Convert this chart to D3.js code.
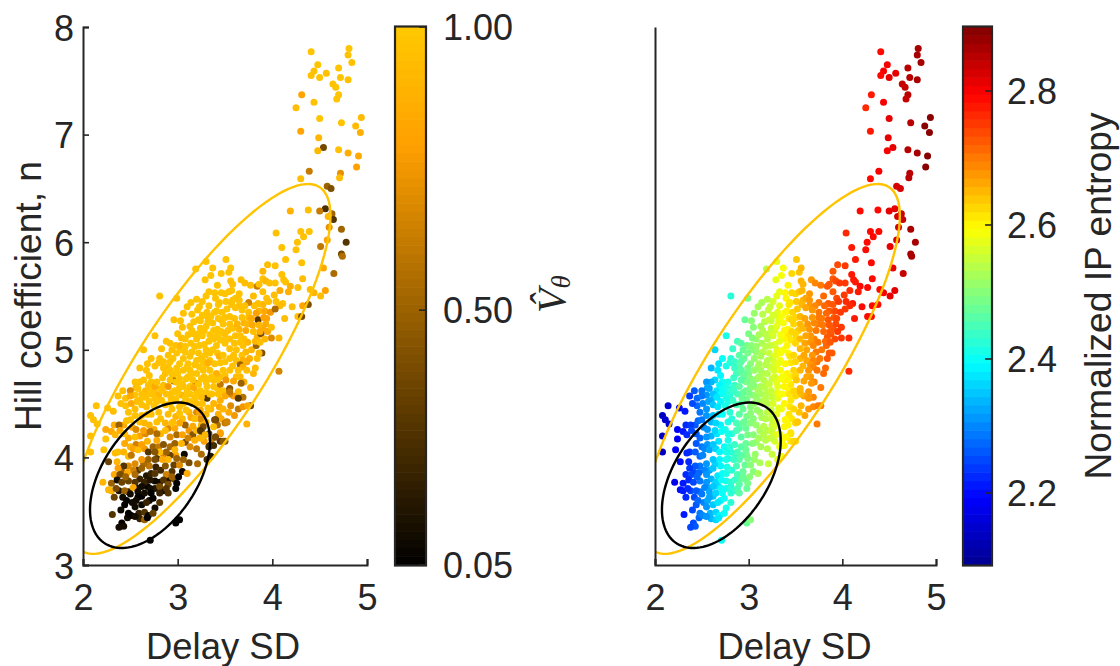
<!DOCTYPE html>
<html><head><meta charset="utf-8">
<script src="https://cdnjs.cloudflare.com/ajax/libs/d3/7.8.5/d3.min.js"></script>
<style>html,body{margin:0;padding:0;background:#fff}svg{display:block}text{font-family:"Liberation Sans",Arial,sans-serif;fill:#262626}</style>
</head><body><svg id="c" width="1120" height="666"></svg>
<script>
// each row: Delay SD, Hill coefficient n, V-hat theta, normalized IP entropy
const upperTail=[[4.41,7.77,.98,2.795],[4.81,7.80,.98,2.87],[4.80,7.74,.97,2.87],[4.84,7.67,.97,2.87],[4.48,7.65,.98,2.80],[4.70,7.62,.98,2.85],[4.44,7.59,.97,2.80],[4.41,7.55,.97,2.795],[4.50,7.53,.98,2.81],[4.57,7.57,.97,2.82],[4.72,7.53,.98,2.85],[4.80,7.51,.97,2.87],[4.64,7.47,.98,2.835],[4.67,7.44,.98,2.84],[4.31,7.37,.82,2.78],[4.44,7.30,.97,2.80],[4.25,7.25,.95,2.76],[4.70,7.37,.98,2.85],[4.68,7.33,.98,2.845],[4.50,7.15,.98,2.81],[4.73,7.11,.98,2.855],[4.94,7.16,.93,2.895],[4.88,7.08,.93,2.885],[4.93,7.02,.88,2.89],[4.30,7.03,.82,2.78],[4.49,6.97,.9,2.81],[4.54,6.88,.38,2.82],[4.48,6.85,.92,2.805],[4.70,6.86,.97,2.85],[4.80,6.83,.86,2.87],[4.91,6.80,.85,2.885],[4.89,6.70,.8,2.885],[4.72,6.64,.72,2.85],[4.71,6.60,.95,2.85],[4.39,6.66,.62,2.80],[4.30,6.59,.95,2.79],[4.58,6.52,.5,2.825],[4.62,6.50,.42,2.83],[4.56,6.31,.26,2.82],[4.50,6.29,.62,2.81],[4.38,6.30,.95,2.795],[4.19,6.29,.88,2.785],[4.63,6.265,.52,2.835],[4.59,6.24,.9,2.83],[4.645,6.21,.3,2.84],[4.60,6.14,.72,2.83],[4.73,6.12,.52,2.86],[4.30,6.10,.97,2.79],[4.39,6.10,.97,2.795],[4.33,6.05,.97,2.79],[4.04,6.085,.96,2.76],[4.58,6.02,.8,2.825],[4.78,6.00,.3,2.87],[4.265,6.00,.97,2.785],[4.51,5.96,.6,2.81],[4.25,5.93,.97,2.785],[4.73,5.89,.38,2.86],[4.74,5.87,.56,2.86],[4.10,5.95,.97,2.775]];
const upperBand=[[4.31,5.81,.97,2.79],[4.54,5.76,.85,2.82],[4.65,5.71,.55,2.84],[4.32,5.66,.95,2.79],[4.14,5.84,.97,2.78],[3.95,5.79,.95,2.74],[4.03,5.78,.96,2.755],[3.51,5.84,.98,2.635],[3.30,5.82,.98,2.57],[3.19,5.75,.98,2.54],[3.37,5.76,.98,2.59],[3.35,5.69,.98,2.585],[3.46,5.71,.98,2.62],[3.54,5.72,.98,2.64],[3.56,5.76,.98,2.65],[3.29,5.65,.98,2.57],[3.56,5.64,.96,2.65],[3.58,5.61,.96,2.655],[3.67,5.65,.95,2.68],[3.71,5.62,.95,2.69],[3.77,5.60,.95,2.70],[3.84,5.59,.62,2.72],[3.86,5.61,.96,2.72],[3.90,5.73,.9,2.73],[3.90,5.66,.96,2.73],[3.93,5.64,.9,2.735],[3.97,5.62,.95,2.745],[4.03,5.62,.96,2.755],[4.10,5.70,.97,2.775],[4.12,5.65,.97,2.78],[4.14,5.63,.97,2.78],[4.19,5.59,.88,2.785],[4.27,5.58,.95,2.79],[4.40,5.56,.95,2.795],[4.44,5.53,.9,2.80],[4.56,5.55,.8,2.82],[4.51,5.50,.95,2.81],[4.08,5.55,.84,2.77],[4.17,5.54,.88,2.78],[3.90,5.54,.96,2.73],[4.02,5.51,.95,2.755],[3.94,5.48,.96,2.74],[3.96,5.45,.95,2.745],[3.85,5.43,.95,2.72],[3.81,5.41,.96,2.71],[3.75,5.44,.65,2.70],[4.04,5.45,.96,2.76],[4.11,5.43,.96,2.775],[4.08,5.41,.94,2.77],[4.03,5.38,.55,2.755],[4.21,5.40,.95,2.785],[4.32,5.41,.82,2.79],[4.38,5.42,.42,2.795],[4.13,5.29,.95,2.78],[4.27,5.31,.95,2.79],[4.31,5.31,.4,2.79],[2.81,5.50,.97,2.42],[2.99,5.48,.97,2.485],[3.33,5.54,.98,2.58],[3.39,5.53,.98,2.595],[3.46,5.53,.98,2.62],[3.54,5.54,.98,2.64],[3.57,5.55,.98,2.65],[3.65,5.52,.97,2.675],[3.61,5.48,.98,2.665],[3.65,5.46,.97,2.675],[3.40,5.48,.98,2.60],[3.20,5.47,.98,2.54],[3.14,5.44,.98,2.53],[3.10,5.40,.98,2.52],[3.23,5.40,.98,2.55],[3.21,5.37,.98,2.545],[3.33,5.41,.98,2.58],[3.44,5.44,.98,2.61],[3.51,5.45,.98,2.635],[3.57,5.42,.97,2.65],[3.65,5.41,.97,2.675],[3.71,5.41,.96,2.69],[3.75,5.35,.96,2.70],[3.68,5.37,.96,2.68],[3.61,5.39,.97,2.665],[3.43,5.42,.98,2.61],[3.39,5.35,.98,2.595],[3.31,5.35,.98,2.575],[3.28,5.32,.98,2.565],[3.35,5.31,.98,2.585],[3.43,5.29,.98,2.61],[3.46,5.28,.98,2.62],[3.55,5.31,.97,2.645],[3.60,5.29,.97,2.66],[3.68,5.30,.96,2.68],[3.75,5.30,.94,2.70],[3.63,5.24,.9,2.67],[3.65,5.19,.9,2.675],[3.55,5.24,.97,2.645],[3.85,5.28,.3,2.72],[3.78,5.29,.85,2.705],[3.91,5.30,.8,2.73],[3.94,5.29,.8,2.74],[3.79,5.23,.85,2.705],[3.86,5.23,.9,2.72],[3.93,5.24,.86,2.735],[3.99,5.21,.95,2.75],[3.72,5.18,.85,2.695],[3.88,5.15,.42,2.725],[3.87,5.17,.86,2.72],[3.80,5.17,.95,2.71],[3.99,5.11,.7,2.75],[3.92,5.10,.9,2.735],[4.07,5.11,.9,2.77],[3.83,5.04,.5,2.715],[3.82,5.08,.9,2.715],[3.87,5.07,.95,2.725],[3.66,5.13,.97,2.68],[3.61,5.13,.97,2.665],[3.66,5.07,.96,2.68],[2.96,5.28,.97,2.475],[3.03,5.27,.97,2.50],[3.05,5.21,.97,2.505],[3.13,5.22,.98,2.53],[3.17,5.26,.98,2.535],[3.22,5.28,.98,2.55],[3.26,5.32,.98,2.56],[3.24,5.20,.98,2.555],[2.76,5.13,.97,2.41],[3.11,5.14,.98,2.525],[3.17,5.15,.98,2.535],[3.26,5.13,.98,2.56],[3.20,5.10,.98,2.54],[3.38,5.18,.98,2.595],[3.42,5.19,.98,2.605],[3.46,5.17,.98,2.62],[3.38,5.10,.98,2.595],[3.45,5.09,.98,2.615],[3.50,5.15,.97,2.63],[3.04,5.11,.97,2.50],[2.88,5.08,.97,2.45],[2.92,5.06,.97,2.465],[3.03,5.04,.92,2.50],[3.55,5.10,.97,2.645],[3.30,5.22,.98,2.57],[3.34,5.14,.98,2.585],[3.48,5.24,.98,2.625],[3.14,5.06,.98,2.53],[3.28,5.05,.98,2.565],[3.33,5.08,.98,2.58]];
const coreCloud=[[2.83,5.01,.97,2.44],[2.64,5.00,.97,2.36],[2.94,5.00,.97,2.475],[3.08,5.03,.98,2.515],[3.23,5.04,.98,2.55],[3.18,5.03,.98,2.54],[3.41,5.04,.98,2.605],[3.50,5.06,.98,2.63],[3.55,5.01,.97,2.645],[3.62,5.00,.97,2.665],[3.69,5.04,.96,2.685],[3.89,4.97,.42,2.73],[3.86,4.97,.92,2.725],[3.84,4.92,.95,2.72],[3.82,4.83,.95,2.715],[4.07,4.80,.66,2.77],[2.81,4.92,.97,2.425],[2.80,4.88,.97,2.42],[2.85,4.89,.97,2.44],[2.99,4.97,.98,2.485],[2.95,4.92,.98,2.475],[2.92,4.89,.98,2.465],[3.06,4.92,.98,2.51],[3.02,4.87,.98,2.50],[3.13,4.94,.98,2.53],[3.11,4.87,.98,2.525],[3.22,4.97,.98,2.55],[3.20,4.90,.98,2.54],[3.18,4.86,.98,2.54],[3.29,4.95,.98,2.57],[3.27,4.89,.98,2.56],[3.34,4.97,.98,2.585],[3.44,4.94,.88,2.61],[3.34,4.90,.98,2.585],[3.39,4.87,.98,2.595],[3.32,4.88,.88,2.575],[3.48,4.95,.98,2.625],[3.55,4.92,.97,2.645],[3.59,4.95,.97,2.66],[3.50,4.89,.98,2.63],[3.68,4.95,.96,2.68],[3.73,4.89,.85,2.695],[3.69,4.90,.88,2.685],[3.66,4.86,.5,2.68],[3.69,4.84,.88,2.685],[2.60,4.83,.97,2.34],[2.68,4.87,.97,2.38],[2.67,4.81,.97,2.375],[2.70,4.76,.97,2.39],[2.87,4.78,.97,2.45],[2.92,4.81,.98,2.465],[2.99,4.83,.98,2.485],[3.06,4.81,.98,2.51],[3.13,4.81,.98,2.53],[3.20,4.78,.98,2.54],[3.27,4.81,.98,2.56],[3.34,4.81,.98,2.585],[3.41,4.78,.88,2.605],[3.48,4.81,.98,2.625],[3.55,4.81,.97,2.645],[3.64,4.81,.97,2.67],[3.62,4.75,.95,2.665],[3.73,4.81,.95,2.695],[2.95,4.75,.98,2.475],[2.96,4.71,.45,2.48],[3.19,4.69,.7,2.54],[3.02,4.73,.98,2.50],[3.09,4.73,.98,2.515],[3.25,4.73,.98,2.555],[3.34,4.73,.98,2.585],[3.45,4.68,.6,2.615],[3.51,4.72,.75,2.635],[3.59,4.71,.85,2.66],[3.67,4.69,.5,2.68],[3.54,4.62,.42,2.64],[3.77,4.65,.88,2.705],[3.64,4.61,.95,2.67],[3.59,4.57,.78,2.66],[3.69,4.56,.58,2.685],[3.64,4.55,.3,2.67],[3.55,4.59,.68,2.645],[2.50,4.62,.7,2.29],[2.58,4.64,.97,2.33],[2.62,4.59,.97,2.35],[2.69,4.67,.97,2.385],[2.72,4.64,.97,2.40],[2.76,4.66,.85,2.41],[2.71,4.59,.97,2.395],[2.80,4.58,.9,2.42],[2.85,4.67,.97,2.44],[2.90,4.66,.75,2.46],[2.88,4.59,.97,2.45],[2.97,4.62,.98,2.48],[3.06,4.66,.98,2.51],[3.13,4.66,.98,2.53],[3.04,4.58,.9,2.505],[3.17,4.65,.85,2.535],[3.13,4.59,.98,2.53],[3.24,4.62,.98,2.555],[3.31,4.66,.98,2.575],[3.38,4.66,.98,2.595],[3.31,4.55,.3,2.575],[3.25,4.56,.95,2.555],[3.36,4.59,.97,2.59],[3.43,4.59,.97,2.61],[3.48,4.62,.97,2.625],[3.50,4.57,.85,2.63],[3.55,4.64,.45,2.645],[3.55,4.61,.6,2.645],[3.45,4.53,.88,2.615],[3.38,4.50,.9,2.595],[3.32,4.46,.97,2.575],[3.26,4.50,.97,2.56],[3.34,4.59,.97,2.585],[3.69,4.47,.75,2.685],[3.77,4.48,.35,2.705],[3.74,4.48,.85,2.70],[3.60,4.39,.75,2.66],[3.54,4.42,.85,2.64],[3.48,4.45,.9,2.625],[3.43,4.40,.88,2.61],[3.40,4.35,.32,2.60],[3.52,4.33,.45,2.635],[3.50,4.32,.6,2.63],[2.45,4.55,.97,2.27],[2.55,4.58,.97,2.31],[2.60,4.53,.97,2.34],[2.66,4.56,.97,2.37],[2.76,4.55,.97,2.41],[2.84,4.62,.97,2.435],[2.93,4.55,.97,2.47],[2.98,4.70,.98,2.485],[3.05,4.68,.98,2.505],[3.11,4.75,.98,2.525],[3.16,4.72,.98,2.535],[3.22,4.68,.98,2.55],[3.28,4.75,.98,2.565],[3.30,4.70,.98,2.57],[3.00,4.60,.98,2.49],[3.08,4.56,.98,2.515],[3.18,4.55,.98,2.54],[2.92,4.72,.98,2.465],[3.36,4.75,.98,2.59],[3.42,4.72,.98,2.605],[2.78,4.70,.97,2.415],[2.84,4.74,.97,2.435],[3.16,4.50,.97,2.535],[3.06,4.50,.97,2.51]];
const lowerCloud=[[2.14,4.48,.97,2.15],[2.08,4.39,.97,2.14],[2.11,4.35,.97,2.15],[2.15,4.31,.97,2.165],[2.26,4.46,.97,2.20],[2.32,4.43,.95,2.215],[2.37,4.57,.97,2.24],[2.40,4.50,.97,2.25],[2.50,4.57,.85,2.29],[2.51,4.50,.85,2.295],[2.57,4.52,.95,2.325],[2.62,4.49,.97,2.35],[2.78,4.52,.97,2.415],[2.83,4.53,.97,2.435],[2.87,4.49,.97,2.45],[2.67,4.47,.97,2.375],[2.48,4.42,.97,2.285],[2.55,4.39,.97,2.31],[2.62,4.39,.97,2.35],[2.50,4.35,.97,2.29],[2.38,4.30,.5,2.24],[2.39,4.25,.85,2.245],[2.24,4.26,.85,2.19],[2.30,4.24,.85,2.21],[2.34,4.21,.9,2.22],[2.08,4.20,.97,2.14],[2.24,4.17,.97,2.19],[2.08,4.05,.97,2.14],[2.22,4.07,.97,2.185],[2.44,4.22,.95,2.265],[2.44,4.13,.85,2.265],[2.37,4.05,.95,2.235],[2.34,4.04,.95,2.22],[2.27,3.96,.35,2.20],[2.36,3.96,.9,2.23],[2.43,4.05,.9,2.26],[2.48,4.01,.95,2.28],[2.53,4.08,.8,2.305],[2.58,4.07,.95,2.33],[2.51,4.02,.6,2.295],[2.64,4.25,.8,2.36],[2.71,4.24,.6,2.395],[2.55,4.19,.97,2.31],[2.65,4.32,.9,2.365],[2.78,4.33,.97,2.415],[2.87,4.25,.95,2.45],[2.94,4.32,.97,2.475],[3.02,4.41,.97,2.50],[3.09,4.44,.97,2.515],[3.20,4.42,.7,2.54],[3.23,4.42,.8,2.55],[3.39,4.35,.4,2.595],[3.52,4.33,.65,2.635],[3.45,4.22,.75,2.615],[3.40,4.19,.45,2.60],[3.45,4.15,.3,2.615],[3.48,4.15,.45,2.625],[3.38,4.11,.25,2.595],[3.33,4.10,.25,2.58],[3.35,4.01,.15,2.585],[3.31,3.98,.25,2.575],[3.25,4.24,.2,2.555],[3.25,4.30,.9,2.555],[3.20,4.25,.95,2.54],[3.23,4.18,.9,2.55],[3.16,4.29,.85,2.535],[3.08,4.30,.5,2.515],[3.02,4.32,.85,2.50],[2.95,4.33,.95,2.475],[2.87,4.32,.9,2.45],[2.92,4.19,.7,2.465],[2.99,4.21,.55,2.485],[3.05,4.21,.8,2.505],[3.11,4.18,.65,2.525],[2.97,4.13,.5,2.48],[3.04,4.13,.9,2.505],[3.13,4.10,.7,2.53],[2.97,4.07,.9,2.48],[2.88,4.05,.5,2.45],[2.81,4.05,.95,2.425],[2.76,4.05,.45,2.41],[2.69,4.05,.3,2.385],[3.07,4.03,.1,2.515],[2.99,3.99,.5,2.485],[3.06,3.98,.5,2.51],[2.90,3.98,.9,2.46],[2.84,3.98,.85,2.435],[2.76,3.98,.4,2.41],[2.69,3.98,.5,2.385],[2.62,3.98,.75,2.35],[3.21,3.94,.55,2.545],[2.87,3.92,.45,2.45],[2.55,3.94,.7,2.31],[2.62,3.90,.5,2.35],[2.48,3.92,.7,2.285],[2.43,3.92,.3,2.26],[2.37,3.90,.8,2.235],[2.47,3.86,.85,2.28],[2.39,3.84,.4,2.245],[2.55,3.84,.55,2.31],[2.67,3.83,.15,2.375],[2.72,3.85,.2,2.40],[2.76,3.85,.3,2.41],[2.94,3.87,.3,2.475],[3.05,3.87,.08,2.505],[2.88,3.84,.65,2.45],[2.94,3.82,.5,2.475],[3.01,3.82,.05,2.495],[3.10,3.85,.85,2.52],[2.21,3.77,.9,2.18],[2.30,3.76,.5,2.21],[2.36,3.79,.1,2.23],[2.41,3.77,.35,2.25],[2.45,3.82,.5,2.27],[2.55,3.77,.3,2.31],[2.65,3.77,.2,2.365],[2.71,3.79,.15,2.395],[2.81,3.77,.1,2.425],[2.85,3.79,.3,2.44],[2.99,3.76,.05,2.485],[2.90,3.75,.4,2.46],[2.27,3.70,.9,2.20],[2.30,3.69,.9,2.21],[2.35,3.71,.4,2.225],[2.44,3.69,.5,2.265],[2.53,3.72,.85,2.305],[2.62,3.73,.1,2.35],[2.71,3.71,.1,2.395],[2.81,3.73,.4,2.425],[2.88,3.71,.3,2.45],[2.98,3.71,.05,2.48],[2.90,3.67,.3,2.46],[2.33,3.63,.35,2.22],[2.42,3.63,.1,2.255],[2.50,3.66,.1,2.29],[2.58,3.68,.1,2.33],[2.65,3.67,.1,2.365],[2.72,3.67,.05,2.40],[2.81,3.67,.2,2.425],[2.46,3.60,.05,2.275],[2.58,3.63,.05,2.33],[2.56,3.60,.1,2.32],[2.74,3.62,.05,2.405],[2.67,3.58,.2,2.375],[2.81,3.58,.3,2.425],[2.55,3.54,.1,2.31],[2.31,3.47,.3,2.215],[2.40,3.51,.08,2.25],[2.48,3.48,.05,2.285],[2.51,3.46,.05,2.295],[2.59,3.48,.2,2.335],[2.65,3.49,.3,2.365],[2.69,3.46,.08,2.385],[2.74,3.48,.35,2.405],[2.55,3.45,.1,2.31],[2.65,3.42,.5,2.365],[2.68,3.44,.05,2.38],[2.41,3.39,.05,2.255],[2.43,3.36,.1,2.26],[2.38,3.35,.1,2.245],[2.98,3.39,.05,2.48],[3.02,3.42,.05,2.50],[2.71,3.23,.05,2.395],[3.27,4.285,.4,2.56],[3.24,4.25,.3,2.555],[3.24,4.36,.7,2.555],[3.29,4.21,.9,2.57],[3.25,4.18,.9,2.555],[3.38,4.285,.95,2.595],[3.45,4.23,.8,2.615],[3.40,4.19,.4,2.60],[3.50,4.15,.45,2.63],[3.34,4.11,.25,2.585],[3.73,4.31,.88,2.695],[3.14,4.37,.85,2.53],[2.72,4.40,.97,2.40],[2.80,4.42,.97,2.42],[2.94,4.45,.97,2.475],[2.56,4.26,.7,2.315],[2.68,4.15,.9,2.38],[2.78,4.16,.85,2.415],[2.85,4.12,.45,2.44],[2.62,4.12,.8,2.35],[3.18,4.36,.95,2.54]];
const denseFill=[[3.0,5.15,.98,2.49],[3.08,5.1,.98,2.515],[3.15,5.18,.98,2.535],[3.22,5.15,.98,2.55],[3.28,5.18,.98,2.565],[3.32,5.26,.98,2.58],[3.37,5.25,.98,2.59],[3.41,5.36,.98,2.60],[3.47,5.35,.98,2.62],[3.52,5.38,.98,2.635],[3.5,5.3,.98,2.63],[3.4,5.12,.98,2.60],[3.43,5.14,.98,2.61],[3.5,5.1,.98,2.63],[3.53,5.18,.97,2.64],[3.58,5.2,.97,2.655],[3.6,5.06,.97,2.66],[3.7,5.1,.95,2.69],[3.74,5.07,.92,2.70],[3.78,5.0,.9,2.705],[3.72,4.98,.92,2.695],[3.76,4.92,.88,2.70],[3.8,4.78,.9,2.71],[3.66,4.75,.92,2.68],[3.7,4.7,.88,2.69],[3.58,4.85,.97,2.655],[3.62,4.9,.97,2.665],[3.45,4.88,.98,2.615],[3.42,4.97,.98,2.605],[3.37,5.0,.98,2.59],[3.3,5.0,.98,2.57],[3.25,4.92,.98,2.555],[3.15,4.98,.98,2.535],[3.08,4.98,.98,2.515],[3.03,5.0,.98,2.50],[2.98,5.04,.97,2.485],[3.1,4.84,.98,2.52],[3.15,4.78,.98,2.535],[3.23,4.84,.98,2.55],[3.3,4.86,.98,2.57],[3.0,4.78,.98,2.49],[2.94,4.78,.98,2.475],[2.9,4.84,.97,2.46],[2.85,4.83,.97,2.44],[2.76,4.85,.97,2.41],[2.72,4.7,.97,2.40],[2.64,4.72,.97,2.36],[2.6,4.7,.97,2.34],[2.55,4.7,.96,2.31],[2.72,4.92,.97,2.40],[2.9,4.95,.97,2.46],[3.45,4.75,.97,2.615],[3.5,4.76,.97,2.63],[3.38,4.72,.95,2.595],[3.42,4.64,.97,2.605],[3.3,4.6,.98,2.57],[3.2,4.6,.98,2.54],[3.1,4.62,.98,2.52],[3.02,4.65,.98,2.50],[2.94,4.6,.98,2.475],[2.82,4.64,.97,2.43],[2.76,4.6,.97,2.41],[2.66,4.62,.95,2.37],[2.56,4.65,.95,2.32],[2.42,4.62,.97,2.26],[2.45,4.48,.96,2.27],[2.55,4.45,.95,2.31],[2.7,4.52,.98,2.39],[2.75,4.48,.98,2.41],[2.92,4.5,.98,2.465],[2.98,4.54,.98,2.485],[3.02,4.47,.97,2.50],[3.12,4.52,.97,2.525],[3.2,4.5,.95,2.54],[3.24,4.44,.85,2.555],[3.3,4.4,.9,2.57],[3.35,4.45,.92,2.585],[3.44,4.47,.85,2.61],[3.3,4.33,.88,2.57],[3.33,4.22,.35,2.58],[3.36,4.17,.6,2.59],[3.42,4.3,.55,2.605],[3.46,4.36,.85,2.615],[3.56,4.48,.7,2.645],[3.64,4.45,.6,2.67],[2.68,4.4,.97,2.38],[2.6,4.33,.96,2.34],[2.7,4.3,.9,2.39],[2.82,4.36,.97,2.43],[2.9,4.4,.95,2.46],[2.98,4.38,.9,2.485],[3.05,4.36,.95,2.505],[3.12,4.42,.9,2.525],[2.43,4.3,.85,2.26],[2.46,4.34,.95,2.275],[2.33,4.3,.88,2.22],[2.52,4.28,.85,2.30],[2.6,4.2,.8,2.34],[2.66,4.22,.7,2.37],[2.75,4.26,.85,2.41],[2.82,4.22,.9,2.43],[2.78,4.22,.55,2.415],[2.9,4.27,.7,2.46],[2.97,4.27,.85,2.48],[3.12,4.25,.75,2.525],[3.16,4.21,.45,2.535],[3.08,4.14,.4,2.515],[3.18,4.16,.88,2.54],[3.28,4.15,.8,2.565],[3.2,4.08,.6,2.54],[3.25,4.03,.55,2.555],[2.48,4.18,.85,2.28],[2.5,4.1,.9,2.29],[2.56,4.12,.65,2.315],[2.65,4.08,.75,2.365],[2.74,4.1,.5,2.405],[2.8,4.1,.6,2.42],[2.92,4.1,.55,2.465],[2.98,4.02,.8,2.485],[2.92,4.02,.35,2.465],[2.85,4.03,.7,2.44],[2.78,3.99,.3,2.415],[2.7,3.92,.6,2.39],[2.64,3.94,.55,2.36],[2.77,3.91,.2,2.41],[2.82,3.88,.25,2.43],[2.96,3.93,.35,2.48],[3.02,3.93,.7,2.50],[3.12,3.95,.4,2.525],[2.58,3.88,.3,2.33],[2.53,3.88,.65,2.305],[2.42,3.86,.5,2.255],[2.33,3.84,.85,2.22],[2.48,3.78,.35,2.285],[2.6,3.8,.2,2.34],[2.76,3.78,.08,2.41],[2.9,3.8,.12,2.46],[2.96,3.8,.4,2.48],[2.68,3.73,.06,2.38],[2.76,3.71,.15,2.41],[2.85,3.69,.1,2.44],[2.56,3.72,.12,2.32],[2.38,3.69,.15,2.245],[2.48,3.68,.2,2.285],[2.62,3.64,.06,2.35],[2.7,3.6,.12,2.39],[2.52,3.58,.1,2.30],[2.44,3.56,.06,2.265],[2.62,3.56,.08,2.35],[2.76,3.53,.1,2.41],[2.6,3.43,.2,2.34],[2.47,3.44,.1,2.28],[3.86,5.36,.9,2.72],[3.9,5.42,.92,2.73],[3.83,5.34,.8,2.715],[3.8,5.5,.95,2.71],[3.92,5.36,.85,2.735],[3.98,5.35,.75,2.75],[3.9,5.2,.85,2.73],[3.84,5.12,.9,2.72],[3.95,5.17,.85,2.745],[3.74,5.24,.92,2.70],[3.7,5.25,.9,2.69],[3.58,5.46,.97,2.655],[3.5,5.52,.98,2.63],[3.42,5.6,.98,2.605],[3.3,5.5,.98,2.57],[3.26,5.45,.98,2.56],[3.15,5.33,.98,2.535],[3.32,5.3,.97,2.575],[3.24,5.27,.98,2.555],[3.06,5.34,.97,2.51]];
const points=[...denseFill,...upperTail,...upperBand,...coreCloud,...lowerCloud];

// ellipses: centre SD, centre n, half-width, half-height, correlation
const goldEllipse=[3.241,4.822,1.373,1.719,.827];
const blackEllipse=[2.708,3.834,.634,.676,.475];
const xTickLabels=[2,3,4,5];
const yTickLabels=[3,4,5,6,7,8];
const vTicks=[.05,.5,1];
const vTickLabels=["0.05","0.50","1.00"];
const entropyTicks=[2.2,2.4,2.6,2.8];
const entropyRange=[2.0925,2.8955];
const xTitle="Delay SD",yTitle="Hill coefficient, n",entropyTitle="Normalized IP entropy";

const svg=d3.select("#c");
const ink="#262626",gold="#ffc300";
const plotTop=27,plotBottom=565;
const y=d3.scaleLinear().domain([3,8]).range([plotBottom,plotTop]);
const xL=d3.scaleLinear().domain([2,5]).range([83,367]);
const xR=d3.scaleLinear().domain([2,5]).range([655,936]);
const TICK=36,LAB=36.5,SIDE=37.2;

// colour maps: 64-step banded like the reference colourbars
const N=64;
const vFrac=d3.scaleLinear().domain([.05,1]).range([0,1]);
const fireRamp=d3.scaleLinear().domain([0,.78,1]).range(["#000000","#ffa000","#ffc800"]);
const band=t=>(Math.max(0,Math.min(N-1,Math.floor(t*N)))+.5)/N;
const vColor=v=>fireRamp(band(vFrac(v)));
const jet=d3.scaleLinear().domain([0,.125,.375,.625,.875,1]).range(["#00008f","#0000ff","#00ffff","#ffff00","#ff0000","#800000"]);
const eFrac=d3.scaleLinear().domain(entropyRange).range([0,1]);
const eColor=e=>jet(band(eFrac(e)));

function ellipsePts(p){const[cx,cy,a,b,r]=p,th=Math.acos(r);
  return d3.range(0,361,3).map(d=>{const t=d*Math.PI/180;return [cx+a*Math.cos(t),cy+b*Math.cos(t-th)];});}

function panel(x,colorOf,field,showY,id){
  const g=svg.append("g");
  g.append("clipPath").attr("id",id).append("rect").attr("x",x(2)).attr("y",plotTop).attr("width",x(5)-x(2)+6).attr("height",plotBottom-plotTop);
  g.append("g").selectAll("circle").data(points).join("circle")
    .attr("cx",d=>x(d[0])).attr("cy",d=>y(d[1])).attr("r",3.5).attr("fill",d=>colorOf(d[field]));
  const line=d3.line().x(d=>x(d[0])).y(d=>y(d[1]));
  [[goldEllipse,gold],[blackEllipse,"#000"]].forEach(([e,c])=>{
    g.append("path").attr("d",line(ellipsePts(e))+"Z").attr("fill","none").attr("stroke",c).attr("stroke-width",2.4).attr("clip-path",`url(#${id})`);});
  const ax=d3.axisBottom(x).tickValues(xTickLabels).tickSize(-6).tickPadding(0).tickFormat(d3.format("d"));
  const ag=g.append("g").attr("transform",`translate(0,${plotBottom})`).call(ax);
  ag.select(".domain").attr("stroke",ink).attr("stroke-width",2);
  ag.selectAll(".tick line").attr("stroke",ink).attr("stroke-width",1.6);
  ag.selectAll(".tick text").attr("y",45).attr("dy",0).attr("font-size",TICK).style("fill",ink).attr("font-family","Liberation Sans");
  const ay=d3.axisLeft(y).tickValues(yTickLabels).tickSize(showY?-6:0).tickFormat(showY?d3.format("d"):()=>"");
  const yg=g.append("g").attr("transform",`translate(${x(2)},0)`).call(ay);
  yg.select(".domain").attr("stroke",ink).attr("stroke-width",2);
  yg.selectAll(".tick line").attr("stroke",ink).attr("stroke-width",1.6);
  yg.selectAll(".tick text").attr("x",-9).attr("dy",13).attr("font-size",TICK).style("fill",ink).attr("font-family","Liberation Sans");
  g.append("text").attr("x",(x(2)+x(5))/2+(showY?-2:-1)).attr("y",659).attr("text-anchor","middle").attr("font-size",LAB).text(xTitle);
}
panel(xL,vColor,2,true,"clipL");
panel(xR,eColor,3,false,"clipR");

svg.append("text").attr("transform",`translate(41,296) rotate(-90)`).attr("text-anchor","middle").attr("font-size",SIDE).text(yTitle);

function colorbar(x0,x1,scale,domain,colorOf,ticks,labels,labelX){
  const g=svg.append("g");
  const steps=d3.range(N).map(i=>domain[0]+(domain[1]-domain[0])*(i+.5)/N);
  const h=(plotBottom-plotTop)/N;
  g.selectAll("rect.s").data(steps).join("rect").attr("class","s").attr("x",x0).attr("width",x1-x0)
    .attr("y",d=>scale(d)-h/2-.3).attr("height",h+.6).attr("fill",colorOf);
  g.append("rect").attr("x",x0).attr("y",plotTop-.5).attr("width",x1-x0).attr("height",plotBottom-plotTop+1).attr("fill","none").attr("stroke",ink).attr("stroke-width",2.2);
  ticks.forEach((t,i)=>{
    g.append("line").attr("x1",x1-7).attr("x2",x1).attr("y1",scale(t)).attr("y2",scale(t)).attr("stroke",ink).attr("stroke-width",1.6);
    g.append("text").attr("x",labelX).attr("y",scale(t)+13).attr("font-size",TICK).text(labels[i]);
  });
}
const vY=d3.scaleLinear().domain([.05,1]).range([plotBottom,plotTop]);
colorbar(395,426,vY,[.05,1],vColor,vTicks,vTickLabels,443);
const eY=d3.scaleLinear().domain(entropyRange).range([plotBottom,plotTop]);
colorbar(963,992,eY,entropyRange,eColor,entropyTicks,entropyTicks.map(d3.format(".1f")),1007);

// V-hat theta label
const vl=svg.append("text").attr("transform","translate(565,313) rotate(-90)").attr("font-size",40).style("font-family","'Liberation Serif',serif").style("font-style","italic");
vl.append("tspan").text("V\u0302");
vl.append("tspan").attr("font-size",27).attr("dy",5).text("\u03b8");
svg.append("text").attr("transform",`translate(1111,296) rotate(-90)`).attr("text-anchor","middle").attr("font-size",SIDE).text(entropyTitle);
</script></body></html>
